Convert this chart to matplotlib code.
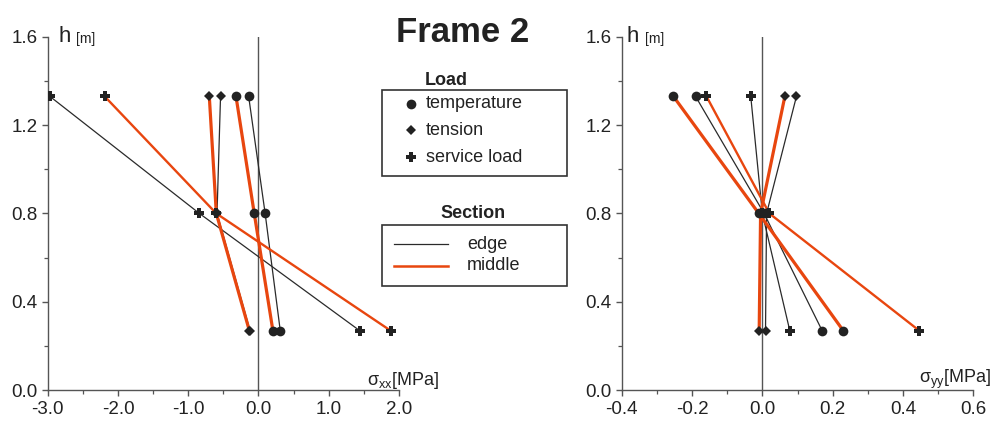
import matplotlib
matplotlib.use("Agg")
import matplotlib.pyplot as plt
from matplotlib.ticker import MultipleLocator, FormatStrFormatter
from matplotlib.patches import Rectangle

plt.rcParams['font.family'] = ['Liberation Sans', 'DejaVu Sans']
plt.rcParams['axes.unicode_minus'] = False
plt.rcParams['mathtext.fontset'] = 'custom'
plt.rcParams['mathtext.rm'] = 'Liberation Sans'

# heights of the measuring points [m]
heights = [1.33, 0.80, 0.27]

# sigma_xx [MPa], frame 2
sxx_temp_edge = [-0.14, 0.095, 0.31]
sxx_temp_mid = [-0.32, -0.06, 0.205]
sxx_tens_edge = [-0.54, -0.59, -0.12]
sxx_tens_mid = [-0.70, -0.60, -0.13]
sxx_serv_edge = [-2.97, -0.84, 1.44]
sxx_serv_mid = [-2.19, -0.60, 1.88]

# sigma_yy [MPa], frame 2
syy_temp_edge = [-0.19, 0.005, 0.17]
syy_temp_mid = [-0.253, -0.01, 0.23]
syy_tens_edge = [0.097, 0.012, 0.009]
syy_tens_mid = [0.064, -0.005, -0.009]
syy_serv_edge = [-0.033, 0.0, 0.078]
syy_serv_mid = [-0.159, 0.02, 0.446]

load_names = ['temperature', 'tension', 'service load']
load_markers = ['o', 'D', 'P']
marker_sizes = [7, 5.2, 7.5]
section_names = ['edge', 'middle']

ORANGE = '#e8460f'
DARK = '#2a2a2a'
MARK = '#222222'


def draw_frame(ax, edge_sets, mid_sets, xlim, xmajor, xminor):
    ax.axvline(0, color='#555555', lw=1.0, zorder=1)
    for vals in edge_sets:
        ax.plot(vals, heights, color=DARK, lw=0.9, zorder=2)
    for i, vals in enumerate(mid_sets):
        ax.plot(vals, heights, color=ORANGE, lw=2.3 if i < 2 else 1.7, zorder=3)
    for vals_e, vals_m, mk, ms in zip(edge_sets, mid_sets, load_markers, marker_sizes):
        for vals in (vals_e, vals_m):
            ax.plot(vals, heights, ls='none', marker=mk, ms=ms, color=MARK,
                    mew=0, zorder=4)
    ax.set_xlim(*xlim)
    ax.set_ylim(0, 1.6)
    ax.xaxis.set_major_locator(MultipleLocator(xmajor))
    ax.xaxis.set_minor_locator(MultipleLocator(xminor))
    ax.yaxis.set_major_locator(MultipleLocator(0.4))
    ax.yaxis.set_minor_locator(MultipleLocator(0.2))
    ax.xaxis.set_major_formatter(FormatStrFormatter('%.1f'))
    ax.yaxis.set_major_formatter(FormatStrFormatter('%.1f'))
    for s in ('top', 'right'):
        ax.spines[s].set_visible(False)
    for s in ('left', 'bottom'):
        ax.spines[s].set_color('#555555')
        ax.spines[s].set_linewidth(1.0)
    ax.tick_params(which='major', direction='out', length=4.5, width=1.0,
                   color='#555555', labelsize=13.5, labelcolor='#222222', pad=3)
    ax.tick_params(which='minor', direction='out', length=3, width=0.9,
                   color='#555555')
    ax.set_facecolor('none')


fig = plt.figure(figsize=(9.92, 4.23), dpi=100)

ax1 = fig.add_axes([0.0481, 0.0773, 0.3541, 0.836])
draw_frame(ax1,
           [sxx_temp_edge, sxx_tens_edge, sxx_serv_edge],
           [sxx_temp_mid, sxx_tens_mid, sxx_serv_mid],
           (-3.0, 2.0), 1.0, 0.5)

ax2 = fig.add_axes([0.6267, 0.0773, 0.3545, 0.836])
draw_frame(ax2,
           [syy_temp_edge, syy_tens_edge, syy_serv_edge],
           [syy_temp_mid, syy_tens_mid, syy_serv_mid],
           (-0.4, 0.6), 0.2, 0.1)

# overlay in pixel coordinates for titles, labels and legends
ov = fig.add_axes([0, 0, 1, 1])
ov.set_xlim(0, 992)
ov.set_ylim(423, 0)
ov.axis('off')
ov.set_zorder(10)

ov.text(463, 42, 'Frame 2', fontsize=25, fontweight='bold', color='#222222',
        ha='center', va='baseline')

for x0 in (58, 627):
    ov.text(x0, 42, 'h', fontsize=16, color='#222222', va='baseline')
    ov.text(x0 + 18, 43, '[m]', fontsize=10, color='#222222', va='baseline')

ov.text(439, 385, r'$\mathregular{\sigma_{xx}}$[MPa]', fontsize=13,
        color='#222222', ha='right', va='baseline')
ov.text(991, 383, r'$\mathregular{\sigma_{yy}}$[MPa]', fontsize=13,
        color='#222222', ha='right', va='baseline')

# Load legend
ov.text(446, 85, 'Load', fontsize=13, fontweight='bold', color='#222222',
        ha='center', va='baseline')
ov.add_patch(Rectangle((382, 90), 185, 86, fill=False, ec='#333333', lw=1.2))
for i, (name, mk, ms) in enumerate(zip(load_names, load_markers, marker_sizes)):
    y = 104 + i * 26.5
    ov.plot([411], [y], marker=mk, ms=ms, color=MARK, mew=0, ls='none')
    ov.text(426, y, name, fontsize=13, color='#222222', va='center')

# Section legend
ov.text(473, 218, 'Section', fontsize=13, fontweight='bold', color='#222222',
        ha='center', va='baseline')
ov.add_patch(Rectangle((382, 225), 185, 61, fill=False, ec='#333333', lw=1.2))
for i, (name, col, lw) in enumerate(zip(section_names, [DARK, ORANGE], [0.9, 1.8])):
    y = 244.5 + i * 21.5
    ov.plot([394, 448], [y, y], color=col, lw=lw)
    ov.text(467, y, name, fontsize=13, color='#222222', va='center')

fig.savefig('out.png', dpi=100)
